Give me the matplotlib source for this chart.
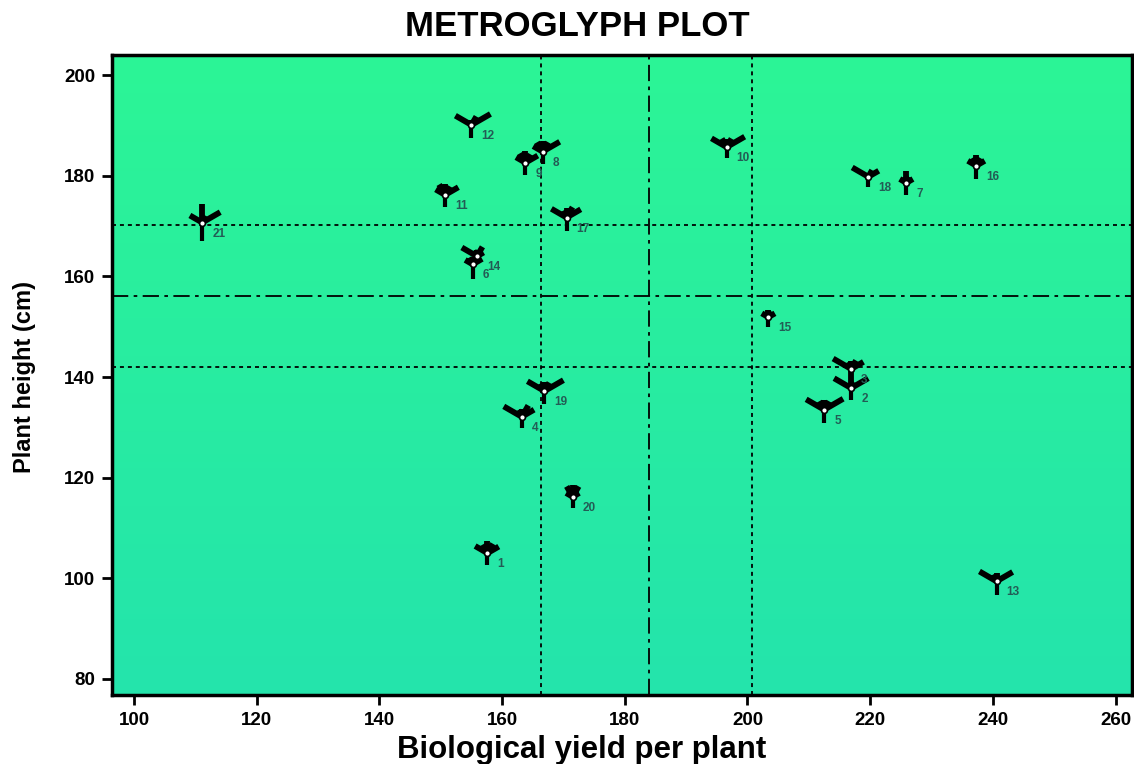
import numpy as np
import matplotlib
matplotlib.use("Agg")
import matplotlib.pyplot as plt

# genotype positions: biological yield (x) and plant height (y)
genotypes = [str(i) for i in range(1, 22)]
yield_x = [157.6, 216.9, 216.9, 163.2, 212.5, 155.2, 225.9, 166.6, 163.8, 196.6,
           150.7, 155.0, 240.6, 155.9, 203.4, 237.3, 170.5, 219.7, 166.9, 171.5, 111.1]
height_y = [105.0, 137.8, 141.6, 132.1, 133.5, 162.4, 178.6, 184.8, 182.6, 185.7,
            176.2, 190.1, 99.4, 164.0, 151.9, 182.0, 171.7, 179.8, 137.2, 116.2, 170.7]

# ray lengths (px) for the other characters, rays at 150,120,90,60,30 deg and a stem down
ray_150 = [12, 17, 18, 18, 18, 7, 6, 9, 9, 15, 9, 16, 17, 15, 6, 8, 15, 16, 17, 6, 12]
ray_120 = [8, 0, 6, 6, 8, 6, 5, 9, 9, 8, 10, 0, 6, 5, 5, 7, 6, 0, 7, 10, 0]
ray_90 = [10, 18, 6, 6, 8, 6, 10, 9, 10, 6, 9, 4, 7, 5, 6, 9, 8, 0, 7, 10, 16]
ray_60 = [9, 5, 8, 11, 8, 6, 5, 9, 8, 8, 8, 8, 5, 9, 5, 7, 10, 6, 8, 10, 6]
ray_30 = [11, 17, 12, 12, 19, 9, 6, 17, 12, 18, 13, 19, 16, 6, 6, 8, 14, 10, 19, 6, 18]
stem = [10, 10, 13, 9, 11, 12, 10, 10, 10, 9, 10, 11, 12, 4, 8, 11, 11, 8, 11, 9, 16]

# reference lines (mean and mean +/- sd)
x_dotted = [166.3, 200.8]
x_mean = 183.9
y_dotted = [142.0, 170.3]
y_mean = 156.2

fig = plt.figure(figsize=(11.34, 7.64), dpi=100)
ax = fig.add_axes([0.0988, 0.0903, 0.8995, 0.8377])
xlim = (96.4, 262.7)
ylim = (76.8, 204.0)
ax.set_xlim(*xlim)
ax.set_ylim(*ylim)

# green gradient background
grad = np.linspace(0, 1, 256).reshape(-1, 1)
top = np.array([44, 245, 150]) / 255
bot = np.array([36, 228, 172]) / 255
img = top[None, None, :] * (1 - grad[:, :, None]) + bot[None, None, :] * grad[:, :, None]
ax.imshow(img, extent=[xlim[0], xlim[1], ylim[0], ylim[1]], aspect="auto",
          origin="upper", zorder=0)

for xv in x_dotted:
    ax.axvline(xv, color="black", lw=1.3, ls=(0, (2.2, 2.2)), zorder=1)
for yv in y_dotted:
    ax.axhline(yv, color="black", lw=1.3, ls=(0, (2.2, 2.2)), zorder=1)
ax.axvline(x_mean, color="black", lw=1.3, ls=(0, (9, 3, 2, 3)), zorder=1)
ax.axhline(y_mean, color="black", lw=1.3, ls=(0, (9, 3, 2, 3)), zorder=1)

# pixel -> data scale for the glyph rays
bbox = ax.get_window_extent()
sx = (xlim[1] - xlim[0]) / bbox.width
sy = (ylim[1] - ylim[0]) / bbox.height

angles = np.radians([150, 120, 90, 60, 30, 270])
for i, g in enumerate(genotypes):
    x0, y0 = yield_x[i], height_y[i]
    lens = [ray_150[i], ray_120[i], ray_90[i], ray_60[i], ray_30[i], stem[i]]
    # filled fan joining the upper rays near the centre
    fan = [(x0, y0)]
    for a, L in zip(angles[:5], lens[:5]):
        r = min(L, 9) * 0.95
        fan.append((x0 + r * np.cos(a) * sx, y0 + r * np.sin(a) * sy))
    ax.fill(*zip(*fan), color="black", lw=1.5, ec="black", zorder=3)
    for a, L in zip(angles, lens):
        if L <= 0:
            continue
        L = L * 1.1 + 1
        w = 3.0 if a > np.pi else 4.2
        ax.plot([x0, x0 + L * np.cos(a) * sx], [y0, y0 + L * np.sin(a) * sy],
                color="black", lw=w, solid_capstyle="butt", zorder=3)
    ax.plot(x0, y0, "o", ms=4.2, mfc="white", mec="black", mew=1.2, zorder=4)
    ax.text(x0 + 10 * sx, y0 - 11 * sy, g, fontsize=8.5, fontweight="bold",
            color="#235c55", va="center", ha="left", zorder=5,
            family="Liberation Sans")

ax.set_xticks(np.arange(100, 261, 20))
ax.set_yticks(np.arange(80, 201, 20))
ax.tick_params(direction="out", length=7, width=2, labelsize=13.5, pad=5)
for lab in ax.get_xticklabels() + ax.get_yticklabels():
    lab.set_fontweight("bold")
    lab.set_family("Liberation Sans")
for s in ax.spines.values():
    s.set_linewidth(2.5)

fig.text(0.509, 0.965, "METROGLYPH PLOT", ha="center", va="center",
         fontsize=25, fontweight="bold", family="Liberation Sans")
fig.text(0.513, 0.018, "Biological yield per plant", ha="center", va="center",
         fontsize=22.5, fontweight="bold", family="Liberation Sans")
fig.text(0.022, 0.507, "Plant height (cm)", ha="center", va="center", rotation=90,
         fontsize=17, fontweight="bold", family="Liberation Sans")

fig.savefig("out.png", dpi=100)
